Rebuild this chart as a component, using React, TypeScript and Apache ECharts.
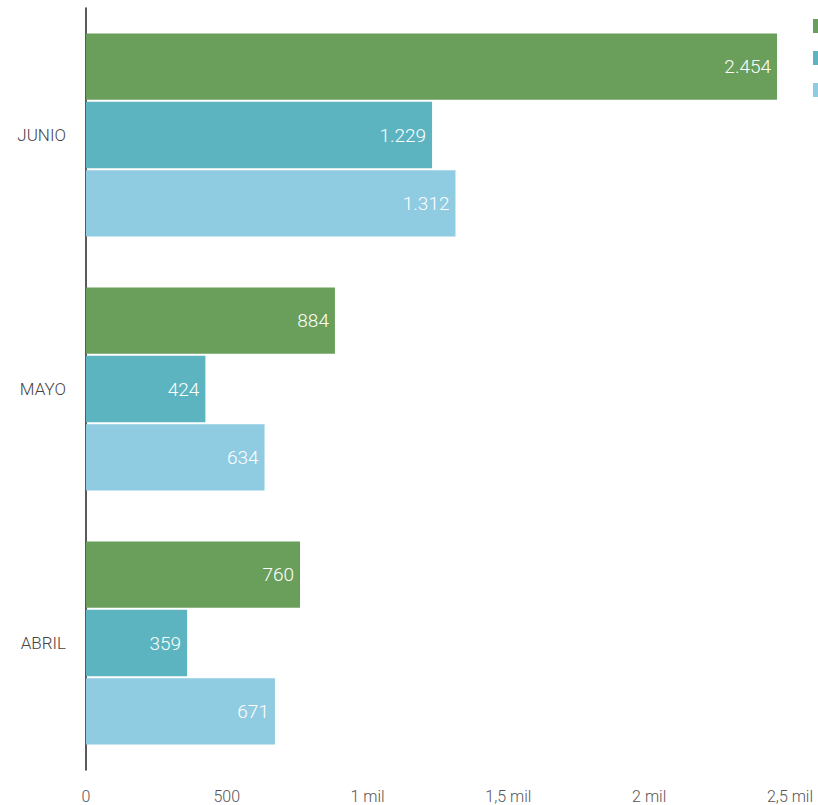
import React, { useEffect, useRef } from "react";
import * as echarts from "echarts";

const categories = ["JUNIO", "MAYO", "ABRIL"];
const seriesNames = ["Serie 1", "Serie 2", "Serie 3"];
const serie1 = [2454, 884, 760];
const serie2 = [1229, 424, 359];
const serie3 = [1312, 634, 671];
const colors = ["#6a9e5b", "#5bb4c0", "#8fcbe1"];
const tickValues = [0, 500, 1000, 1500, 2000, 2500];
const tickLabels = ["0", "500", "1 mil", "1,5 mil", "2 mil", "2,5 mil"];

const fmt = (v: number) => v.toString().replace(/\B(?=(\d{3})+(?!\d))/g, ".");

export default function App() {
  const ref = useRef<HTMLDivElement>(null);
  useEffect(() => {
    if (!ref.current) return;
    const chart = echarts.init(ref.current, null, { renderer: "svg" });
    const values = [serie1, serie2, serie3];
    chart.setOption({
      animation: false,
      backgroundColor: "#ffffff",
      textStyle: { fontFamily: "Roboto" },
      legend: {
        orient: "vertical",
        left: 813,
        top: 19,
        padding: 0,
        itemWidth: 14,
        itemHeight: 14,
        itemGap: 18,
        icon: "rect",
        data: seriesNames,
        formatter: () => "",
        textStyle: { color: "#444", fontSize: 14 },
      },
      grid: { left: 86, right: 28, top: 8, bottom: 35, containLabel: false },
      xAxis: {
        type: "value",
        min: 0,
        max: 2500,
        interval: 500,
        axisLine: { show: false },
        axisTick: { show: false },
        splitLine: { show: false },
        axisLabel: {
          color: "#555",
          fontSize: 16,
          fontWeight: 300,
          margin: 18,
          formatter: (v: number) => {
            const i = tickValues.indexOf(v);
            return i >= 0 ? tickLabels[i] : "";
          },
        },
      },
      yAxis: {
        type: "category",
        inverse: true,
        data: categories,
        axisLine: { show: true, lineStyle: { color: "#222", width: 1.5 } },
        axisTick: { show: false },
        axisLabel: { color: "#444", fontSize: 17, fontWeight: 300, margin: 20 },
      },
      series: seriesNames.map((name, i) => ({
        name,
        type: "bar",
        data: values[i],
        barGap: "3%",
        barCategoryGap: "20%",
        itemStyle: { color: colors[i] },
        label: {
          show: true,
          position: "insideRight",
          color: "#ffffff",
          fontSize: 19,
          fontWeight: 300,
          distance: 6,
          formatter: (p: any) => fmt(p.value),
        },
      })),
    });
    return () => chart.dispose();
  }, []);
  return (
    <div
      ref={ref}
      style={{ position: "absolute", left: 0, top: 0, width: 818, height: 805 }}
    />
  );
}
